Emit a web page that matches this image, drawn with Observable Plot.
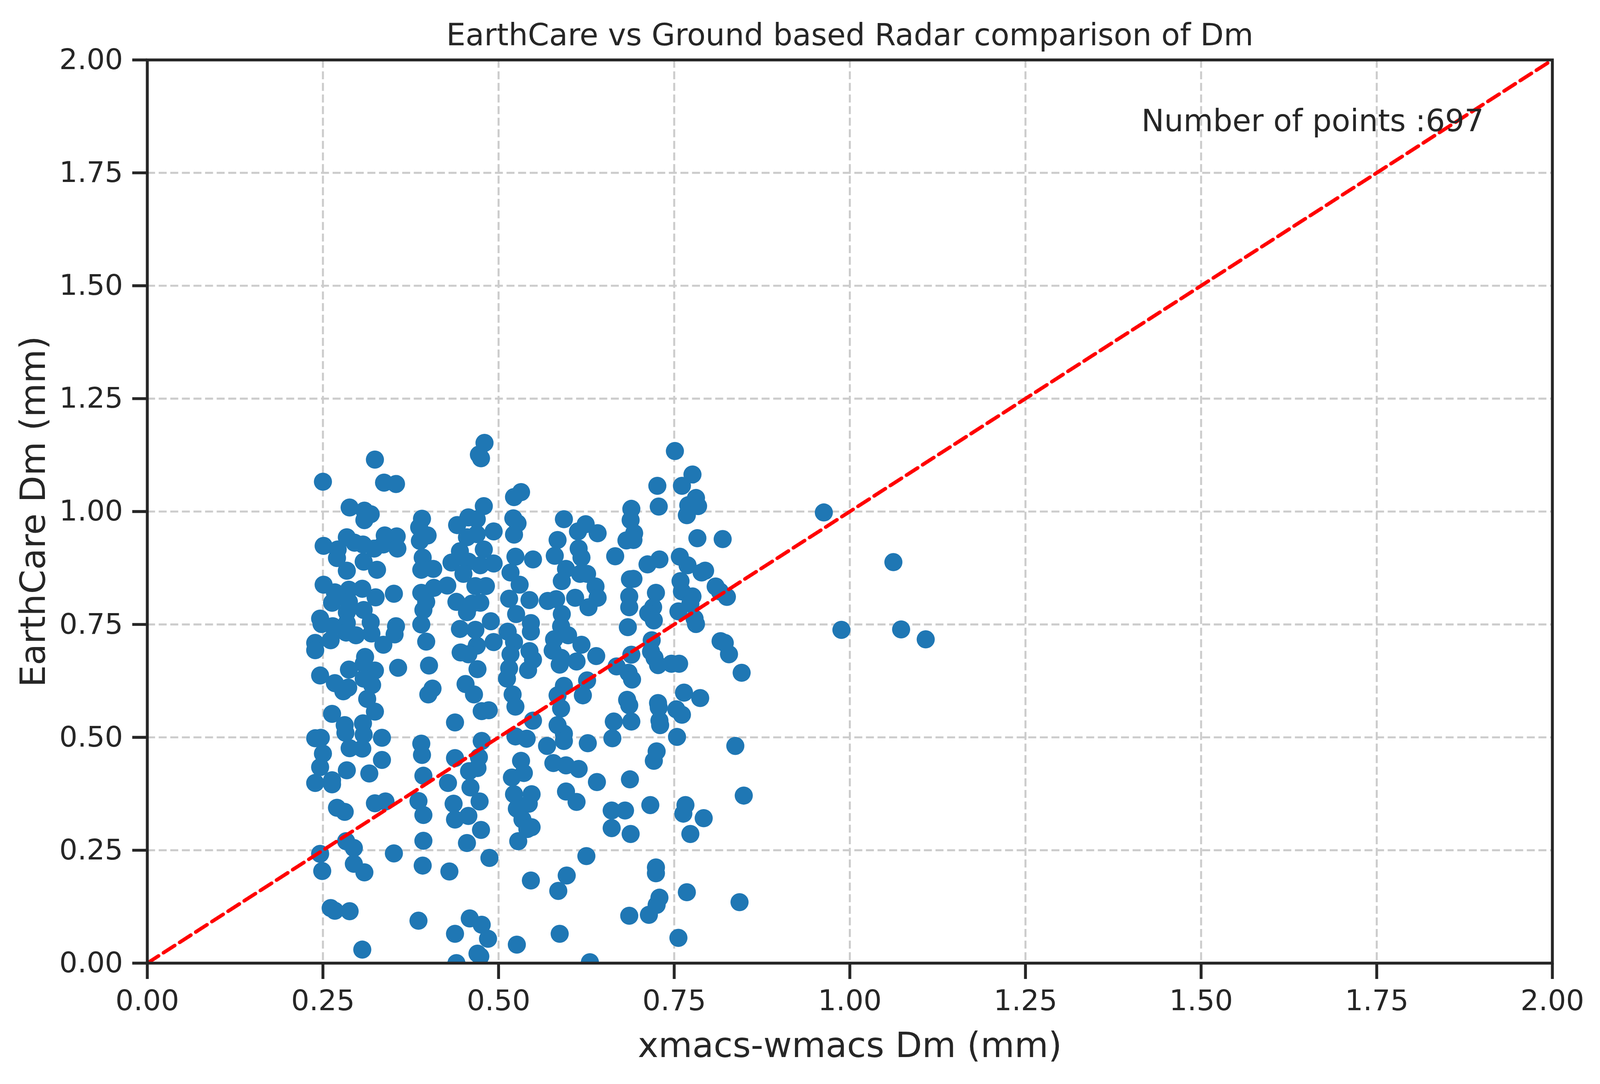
<!DOCTYPE html>
<html><head><meta charset="utf-8">
<script src="https://cdn.jsdelivr.net/npm/d3@7"></script>
<script src="https://cdn.jsdelivr.net/npm/@observablehq/plot@0.6"></script>
<style>
html,body{margin:0;padding:0;background:#fff;overflow:hidden;}
#chart svg{display:block}
</style>
</head><body><div id="chart"></div>
<script>
const titleText = "EarthCare vs Ground based Radar comparison of Dm";
const xLabel = "xmacs-wmacs Dm (mm)";
const yLabel = "EarthCare Dm (mm)";
const annotation = ["Number of points :697"];
const axisTicks = [0, 0.25, 0.5, 0.75, 1.0, 1.25, 1.5, 1.75, 2.0];
const identityLine = [0, 2];
// [xmacs-wmacs Dm, EarthCare Dm] pairs
const points = [
[0.324,1.115],[0.250,1.066],[0.337,1.064],[0.354,1.061],[0.288,1.009],[0.309,1.002],[0.318,0.994],[0.309,0.981],[0.391,0.984],[0.387,0.965],[0.399,0.947],[0.388,0.935],
[0.251,0.924],[0.271,0.916],[0.284,0.943],[0.295,0.931],[0.307,0.927],[0.323,0.918],[0.338,0.947],[0.336,0.927],[0.355,0.945],[0.356,0.918],[0.270,0.897],[0.284,0.869],[0.308,0.889],[0.327,0.871],[0.392,0.898],[0.390,0.871],[0.407,0.873],[0.433,0.887],
[0.251,0.838],[0.267,0.821],[0.287,0.827],[0.306,0.829],[0.325,0.810],[0.351,0.818],[0.263,0.798],[0.287,0.800],[0.284,0.777],[0.308,0.782],[0.390,0.820],[0.408,0.831],[0.397,0.800],[0.393,0.782],[0.427,0.836],
[0.246,0.763],[0.248,0.751],[0.264,0.746],[0.284,0.753],[0.318,0.755],[0.319,0.730],[0.297,0.726],[0.283,0.732],[0.261,0.715],[0.354,0.746],[0.352,0.728],[0.336,0.705],[0.239,0.709],[0.239,0.693],[0.390,0.750],[0.397,0.712],
[0.310,0.678],[0.308,0.663],[0.287,0.650],[0.324,0.648],[0.246,0.637],[0.267,0.620],[0.286,0.610],[0.320,0.616],[0.308,0.630],[0.357,0.654],[0.401,0.659],[0.406,0.608],[0.400,0.595],[0.313,0.585],[0.279,0.602],
[0.263,0.552],[0.281,0.527],[0.282,0.510],[0.307,0.531],[0.308,0.506],[0.306,0.475],[0.288,0.476],[0.324,0.557],[0.239,0.498],[0.247,0.499],[0.250,0.464],[0.246,0.434],[0.239,0.399],[0.263,0.405],[0.263,0.396],[0.284,0.427],[0.316,0.420],[0.334,0.499],[0.334,0.450],[0.390,0.486],[0.391,0.461],[0.393,0.415],[0.438,0.533],[0.438,0.454],[0.428,0.399],[0.436,0.353],[0.438,0.318],[0.270,0.344],[0.281,0.335],[0.324,0.354],[0.339,0.358],[0.386,0.359],[0.393,0.328],[0.393,0.271],[0.283,0.270],[0.294,0.255],[0.246,0.242],[0.249,0.204],[0.294,0.220],[0.309,0.201],[0.351,0.243],[0.392,0.216],[0.430,0.203],[0.261,0.122],[0.267,0.116],[0.288,0.115],[0.386,0.094],[0.438,0.065],[0.306,0.030],[0.440,0.000],
[0.480,1.152],[0.472,1.126],[0.475,1.118],[0.532,1.043],[0.522,1.032],[0.479,1.012],[0.457,0.987],[0.469,0.983],[0.441,0.970],[0.493,0.956],[0.521,0.985],[0.527,0.974],[0.522,0.949],[0.455,0.943],[0.469,0.950],[0.479,0.916],[0.445,0.912],[0.457,0.889],[0.493,0.885],[0.474,0.881],[0.450,0.862],[0.482,0.835],[0.467,0.835],[0.440,0.800],[0.462,0.796],[0.474,0.798],[0.455,0.777],[0.489,0.757],[0.445,0.740],[0.467,0.738],[0.493,0.711],[0.469,0.703],[0.446,0.688],[0.457,0.684],[0.470,0.651],[0.453,0.618],[0.465,0.595],
[0.524,0.900],[0.549,0.894],[0.517,0.865],[0.530,0.838],[0.515,0.807],[0.544,0.804],[0.525,0.773],[0.546,0.753],[0.546,0.734],[0.513,0.734],[0.522,0.711],[0.544,0.691],[0.549,0.672],[0.517,0.684],[0.515,0.653],[0.542,0.649],[0.512,0.630],[0.520,0.595],
[0.593,0.983],[0.624,0.972],[0.641,0.952],[0.613,0.956],[0.584,0.937],[0.614,0.918],[0.618,0.898],[0.580,0.902],[0.596,0.873],[0.590,0.846],[0.616,0.862],[0.626,0.862],[0.638,0.834],[0.641,0.809],[0.609,0.809],[0.628,0.788],[0.570,0.802],[0.582,0.806],[0.590,0.773],[0.589,0.746],[0.599,0.726],[0.579,0.717],[0.577,0.692],[0.589,0.676],[0.618,0.705],[0.639,0.680],[0.611,0.668],[0.587,0.661],[0.626,0.626],[0.593,0.614],[0.584,0.593],[0.620,0.593],
[0.524,0.568],[0.476,0.558],[0.486,0.560],[0.476,0.492],[0.549,0.537],[0.589,0.564],[0.584,0.527],[0.593,0.508],[0.593,0.492],[0.524,0.502],[0.540,0.497],[0.569,0.481],[0.627,0.487],
[0.472,0.456],[0.470,0.432],[0.458,0.425],[0.532,0.448],[0.536,0.421],[0.519,0.411],[0.578,0.443],[0.596,0.438],[0.614,0.430],[0.640,0.401],[0.596,0.380],[0.611,0.357],[0.460,0.389],[0.473,0.358],[0.457,0.326],[0.475,0.295],[0.455,0.266],
[0.522,0.374],[0.547,0.374],[0.543,0.353],[0.526,0.342],[0.534,0.318],[0.547,0.301],[0.541,0.297],[0.528,0.270],
[0.487,0.233],[0.625,0.237],[0.546,0.183],[0.597,0.194],[0.585,0.160],[0.459,0.099],[0.476,0.085],[0.485,0.054],[0.470,0.021],[0.526,0.041],[0.587,0.065],[0.630,0.002],[0.474,0.015],
[0.751,1.134],[0.776,1.082],[0.761,1.057],[0.726,1.057],[0.728,1.011],[0.781,1.030],[0.784,1.012],[0.770,1.014],[0.768,0.992],[0.689,1.006],[0.688,0.981],[0.693,0.952],[0.682,0.936],[0.692,0.937],[0.783,0.941],[0.819,0.939],[0.666,0.901],[0.712,0.883],[0.729,0.894],[0.758,0.900],[0.769,0.881],[0.789,0.865],[0.794,0.869],[0.687,0.850],[0.692,0.851],[0.759,0.846],[0.761,0.823],[0.776,0.812],[0.809,0.834],[0.815,0.823],[0.825,0.811],[0.724,0.820],[0.686,0.812],[0.686,0.788],[0.720,0.788],[0.713,0.775],[0.721,0.759],[0.756,0.779],[0.773,0.796],[0.779,0.763],[0.781,0.751],[0.684,0.744],[0.718,0.715],[0.717,0.690],[0.722,0.676],[0.727,0.660],[0.746,0.663],[0.757,0.663],[0.689,0.683],[0.668,0.657],[0.685,0.643],[0.690,0.628],[0.816,0.713],[0.822,0.709],[0.828,0.684],[0.846,0.643],[0.764,0.599],[0.787,0.587],[0.683,0.583],[0.727,0.576],
[0.686,0.571],[0.728,0.566],[0.753,0.562],[0.761,0.550],[0.664,0.535],[0.689,0.535],[0.729,0.537],[0.730,0.527],[0.662,0.498],[0.754,0.501],[0.837,0.481],[0.725,0.469],[0.721,0.448],[0.687,0.407],[0.849,0.371],[0.716,0.350],[0.680,0.338],[0.661,0.338],[0.766,0.350],[0.763,0.331],[0.792,0.321],[0.773,0.286],[0.661,0.299],[0.688,0.286],[0.724,0.212],[0.724,0.199],[0.768,0.157],[0.843,0.135],[0.729,0.145],[0.725,0.129],[0.714,0.107],[0.686,0.105],[0.756,0.056],
[0.963,0.998],[0.988,0.738],[1.062,0.888],[1.073,0.739],[1.108,0.717]
];
const data = points.map(([x, y]) => ({x, y}));

// size the drawing to the actual viewport, keeping the reference proportions (designed at 4416x2776)
const W = Math.round(document.documentElement.clientWidth || window.innerWidth || 4416);
const H = Math.round(document.documentElement.clientHeight || window.innerHeight || 2776);
const sx = W / 4416, sy = H / 2776, k = Math.min(sx, sy);

const fmt = d3.format(".2f");
const ink = "#262626";
const chart = Plot.plot({
  width: W,
  height: H,
  marginLeft: 406 * sx,
  marginRight: 132 * sx,
  marginTop: 153 * sy,
  marginBottom: 310 * sy,
  style: {fontFamily: "DejaVu Sans", color: ink, background: "#ffffff", overflow: "visible"},
  x: {domain: [0, 2]},
  y: {domain: [0, 2]},
  marks: [
    Plot.gridX({ticks: axisTicks, stroke: "#cccccc", strokeOpacity: 1, strokeWidth: 5.5 * k, strokeDasharray: `${22 * k},${10 * k}`}),
    Plot.gridY({ticks: axisTicks, stroke: "#cccccc", strokeOpacity: 1, strokeWidth: 5.5 * k, strokeDasharray: `${22 * k},${10 * k}`}),
    Plot.dot(data, {x: "x", y: "y", r: 25 * k, fill: "#1f77b4", clip: true}),
    Plot.line(identityLine, {x: d => d, y: d => d, stroke: "#ff0000", strokeWidth: 10 * k, strokeDasharray: `${37 * k},${16 * k}`, clip: true}),
    Plot.frame({stroke: ink, strokeWidth: 8 * k}),
    Plot.axisX({ticks: axisTicks, tickFormat: fmt, tickSize: 41 * sy, tickPadding: 27 * sy, strokeWidth: 8 * k, fontSize: 79 * k, label: null}),
    Plot.axisY({ticks: axisTicks, tickFormat: fmt, tickSize: 41 * sx, tickPadding: 26 * sx, strokeWidth: 8 * k, fontSize: 79 * k, label: null}),
    Plot.text([titleText], {frameAnchor: "top", dy: -38 * sy, lineAnchor: "bottom", fontSize: 84 * k, text: d => d, fill: ink}),
    Plot.text([xLabel], {frameAnchor: "bottom", dy: 240 * sy, lineAnchor: "bottom", fontSize: 96 * k, text: d => d, fill: ink}),
    Plot.text([yLabel], {frameAnchor: "left", dx: -283 * sx, rotate: -90, textAnchor: "middle", lineAnchor: "bottom", fontSize: 96 * k, text: d => d, fill: ink}),
    Plot.text(annotation, {x: () => 1.415, y: () => 1.842, textAnchor: "start", lineAnchor: "bottom", fontSize: 84 * k, text: d => d, fill: ink})
  ]
});
document.getElementById("chart").appendChild(chart);
</script>
</body></html>
